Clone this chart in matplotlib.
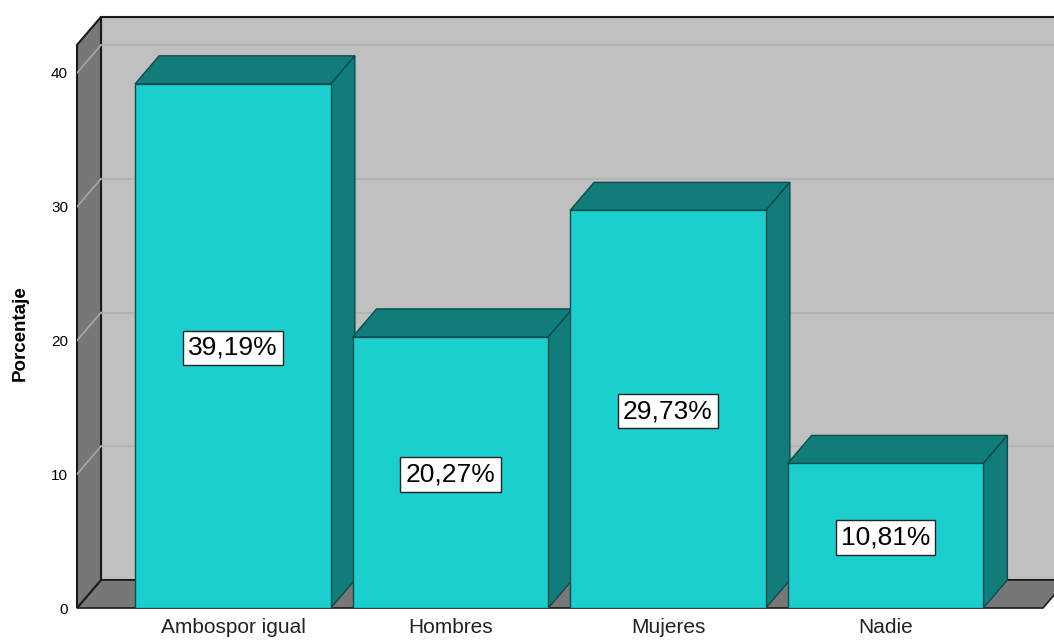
import matplotlib.pyplot as plt
from matplotlib.patches import Polygon, Rectangle

categorias = ["Ambospor igual", "Hombres", "Mujeres", "Nadie"]
porcentajes = [39.19, 20.27, 29.73, 10.81]
etiquetas = ["39,19%", "20,27%", "29,73%", "10,81%"]
ticks_y = [0, 10, 20, 30, 40]

plt.rcParams["font.family"] = ["Liberation Sans", "DejaVu Sans"]

fig = plt.figure(figsize=(10.54, 6.41), dpi=100)
# eje frontal: borde izquierdo en x=77 px, base en y=608 px
ax = fig.add_axes([77 / 1054, 33 / 641, 1 - 77 / 1054, 608 / 641])
ax.set_xlim(-0.7172, 3.7747)
ax.set_ylim(0, 608 / 13.375)

# profundidad del efecto 3D en unidades de datos
dx = 24 / 217.5
dy = 28 / 13.375
x0, x1 = -0.7172, 3.724
y_top = 42.1
ancho = 0.9

c_frente = "#1ccfcf"
c_lado = "#127c7a"
c_borde = "#0b4c4c"
c_muro = "#c0c0c0"
c_oscuro = "#777777"

# pared de fondo, suelo y pared izquierda
ax.add_patch(Rectangle((x0 + dx, dy), x1 - x0 + 1, y_top, facecolor=c_muro,
                       edgecolor="#1a1a1a", lw=1.5, clip_on=False))
ax.add_patch(Polygon([(x0, 0), (x1, 0), (x1 + dx, dy), (x0 + dx, dy)],
                     facecolor=c_oscuro, edgecolor="#1a1a1a", lw=1.2, clip_on=False))
ax.add_patch(Polygon([(x0, 0), (x0 + dx, dy), (x0 + dx, y_top + dy), (x0, y_top)],
                     facecolor=c_oscuro, edgecolor="#1a1a1a", lw=1.5, clip_on=False))

for v in ticks_y[1:]:
    ax.plot([x0 + dx, x1 + 2], [v + dy, v + dy], color="#b0b0b0", lw=1.2, zorder=1)
    ax.plot([x0, x0 + dx], [v, v + dy], color="#a8a8a8", lw=1.2, zorder=1)

for i, (v, etq) in enumerate(zip(porcentajes, etiquetas)):
    xl, xr = i - ancho / 2, i + ancho / 2
    ax.add_patch(Rectangle((xl, 0), ancho, v, facecolor=c_frente,
                           edgecolor=c_borde, lw=1, zorder=3 + 2 * i))
    ax.add_patch(Polygon([(xl, v), (xr, v), (xr + dx, v + dy), (xl + dx, v + dy)],
                         facecolor=c_lado, edgecolor=c_borde, lw=1, zorder=2 + 2 * i))
    ax.add_patch(Polygon([(xr, 0), (xr + dx, dy), (xr + dx, v + dy), (xr, v)],
                         facecolor=c_lado, edgecolor=c_borde, lw=1, zorder=2 + 2 * i))
    ax.text(i, v / 2 - 0.15, etq, ha="center", va="center", fontsize=19, zorder=20,
            bbox=dict(boxstyle="square,pad=0.2", facecolor="white",
                      edgecolor="#222222", lw=1))

ax.set_xticks(range(len(categorias)))
ax.set_xticklabels(categorias, fontsize=15, color="#222222")
ax.set_yticks(ticks_y)
ax.set_yticklabels([str(t) for t in ticks_y], fontsize=11)
ax.tick_params(axis="x", length=0, pad=7)
ax.tick_params(axis="y", length=0, pad=6.5)
for s in ax.spines.values():
    s.set_visible(False)
ax.patch.set_visible(False)

fig.text(20 / 1054, 1 - 333 / 641, "Porcentaje", rotation=90, ha="center",
         va="center", fontsize=13.5, fontweight="bold")

fig.savefig("out.png", dpi=100)
